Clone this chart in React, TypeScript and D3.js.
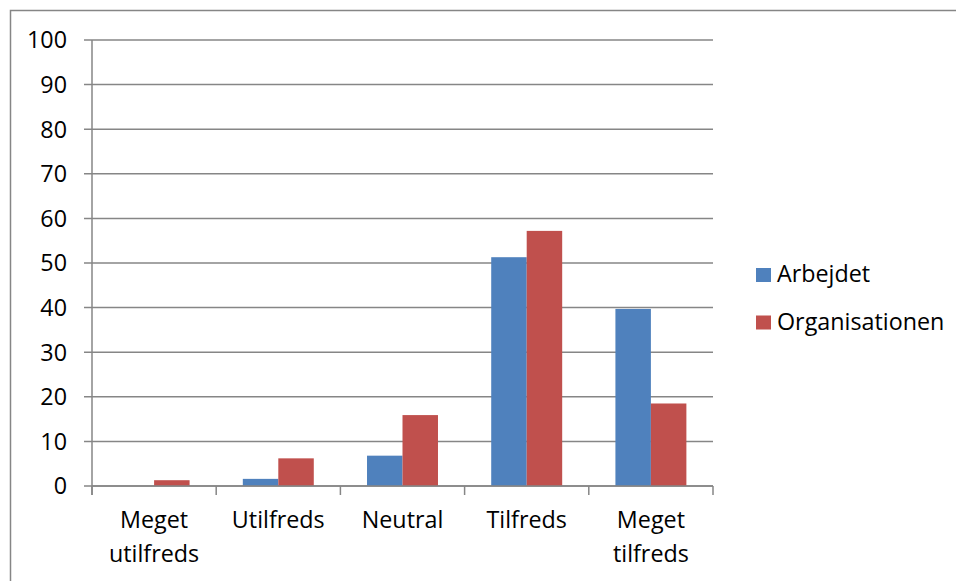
import React from "react";
import * as d3 from "d3";

const categories = [["Meget", "utilfreds"], ["Utilfreds"], ["Neutral"], ["Tilfreds"], ["Meget", "tilfreds"]];
const seriesNames = ["Arbejdet", "Organisationen"];
const arbejdet = [0, 1.6, 6.8, 51.3, 39.7];
const organisationen = [1.3, 6.2, 15.9, 57.2, 18.5];
const yTicks = [0, 10, 20, 30, 40, 50, 60, 70, 80, 90, 100];
const colors = ["#4F81BD", "#C0504D"];

export default function App() {
  const W = 956, H = 581;
  const left = 92, right = 713, top = 40, bottom = 486;
  const font = "'Open Sans', sans-serif";
  const fs = 23.3;
  const series = [arbejdet, organisationen];
  const x = d3.scaleBand<number>().domain(d3.range(categories.length)).range([left, right]).paddingInner(0).paddingOuter(0);
  const y = d3.scaleLinear().domain([0, 100]).range([bottom, top]);
  const bw = x.bandwidth();
  const barW = bw / 3.5;
  const gap = barW * 0.75;
  const grey = "#868686";
  return (
    <svg width={W} height={H} style={{ position: "absolute", left: 0, top: 0, background: "#fff" }} fontFamily={font}>
      <rect x={10.5} y={10.5} width={W + 10} height={H + 10} fill="#fff" stroke={grey} strokeWidth={1.5} />
      {yTicks.map((t) => (
        <g key={t}>
          <line x1={left - 8} x2={right} y1={y(t)} y2={y(t)} stroke={grey} strokeWidth={1.5} />
          <text x={67} y={y(t)} dy="0.36em" textAnchor="end" fontSize={fs} fill="#000">{t}</text>
        </g>
      ))}
      {series.map((vals, si) =>
        vals.map((v, ci) => (
          <rect key={`${si}-${ci}`} x={(x(ci) as number) + gap + si * barW} y={y(v)} width={barW} height={y(0) - y(v)} fill={colors[si]} />
        ))
      )}
      <line x1={left} x2={left} y1={top} y2={bottom + 9} stroke={grey} strokeWidth={1.5} />
      <line x1={left} x2={right} y1={bottom} y2={bottom} stroke={grey} strokeWidth={1.5} />
      {d3.range(categories.length + 1).map((i) => {
        const xx = left + i * bw;
        return <line key={i} x1={xx} x2={xx} y1={bottom} y2={bottom + 9} stroke={grey} strokeWidth={1.5} />;
      })}
      {categories.map((lines, ci) => (
        <text key={ci} textAnchor="middle" fontSize={fs} fill="#000">
          {lines.map((l, li) => (
            <tspan key={li} x={(x(ci) as number) + bw / 2} y={528 + li * 34}>{l}</tspan>
          ))}
        </text>
      ))}
      {seriesNames.map((n, i) => (
        <g key={n}>
          <rect x={756} y={268 + i * 47.5} width={15} height={14} fill={colors[i]} />
          <text x={777} y={282 + i * 47.5} fontSize={fs} fill="#000">{n}</text>
        </g>
      ))}
    </svg>
  );
}
